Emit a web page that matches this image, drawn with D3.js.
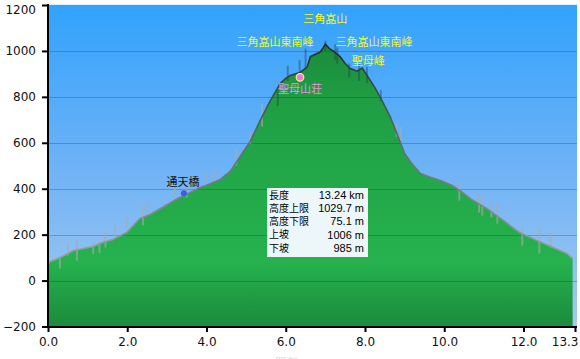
<!DOCTYPE html>
<html><head><meta charset="utf-8">
<script src="https://cdn.jsdelivr.net/npm/d3@7"></script>
<style>
html,body{margin:0;padding:0;background:#fff;}
svg{display:block;}
</style></head>
<body>
<svg id="chart" width="580" height="359"></svg>
<script>
// ---- data ----
const distKm = [0.0,0.05,0.3,0.64,0.9,1.14,1.39,1.64,2.0,2.32,2.6,2.83,3.1,3.33,3.6,3.84,4.1,4.34,4.6,4.85,5.1,5.35,5.6,5.86,6.0,6.11,6.36,6.54,6.62,6.87,6.95,7.0,7.1,7.2,7.37,7.5,7.63,7.8,7.93,8.08,8.26,8.43,8.64,8.84,9.0,9.2,9.4,9.65,9.9,10.2,10.45,10.66,11.08,11.5,11.9,12.35,12.75,13.1,13.24];
const elevM = [75,83,100,131,140,148,167,179,211,270,290,313,340,363,385,405,422,440,475,540,605,695,780,858,880,893,906,930,975,995,1015,1030,1010,1000,975,945,923,912,925,886,837,784,712,625,553,505,466,450,436,414,385,357,313,261,209,174,144,118,96];
// raw-data noise spikes: km, upper elev, lower elev
const spikeKm = [0.3,0.5,0.73,1.14,1.3,1.45,1.7,2.0,2.4,2.5,3.2,3.5,4.0,4.2,4.75,5.1,5.4,5.8,6.05,6.35,6.5,7.0,7.25,7.3,7.6,7.85,8.05,8.4,8.8,8.9,10.38,10.88,10.96,11.19,11.34,11.97,12.4,12.68];
const spikeHi  = [96,161,174,165,170,209,240,274,327,340,400,405,466,479,570,650,770,830,935,960,1010,1045,1030,1015,945,945,930,830,685,670,427,380,370,335,335,231,231,205];
const spikeLo  = [52,109,87,115,120,144,183,218,240,292,357,360,422,435,500,595,670,760,870,900,920,1000,960,945,885,870,860,780,625,600,348,296,283,275,248,152,118,144];
const yTicks = [-200,0,200,400,600,800,1000,1200];
const xTicks = [0,2,4,6,8,10,12,13.3];
const wpNames = ["三角嵓山","三角嵓山東南峰","三角嵓山東南峰","聖母峰","聖母山荘","通天橋"];
const wpKm    = [7.0,5.73,8.23,8.08,6.36,3.41];
const wpElev  = [1141,1039,1039,956,832,428];
const wpKind  = ["peak","peak","peak","peak","hut","bridge"];
const markerKm = [6.36,3.43];
const markerElev = [885,380];
const markerKind = ["hut","bridge"];
const infoLabels = ["長度","高度上限","高度下限","上坡","下坡"];
const infoValues = ["13.24 km","1029.7 m","75.1 m","1006 m","985 m"];

// ---- chart ----
(function(){
const svg = d3.select("#chart");
const pL = 48, pR = 577, pT = 4, pB = 327;
const x = d3.scaleLinear().domain([0,13.3]).range([48,575]);
const y = d3.scaleLinear().domain([-200,1200]).range([326.5,5]);
const pts = distKm.map((k,i)=>({k, e: elevM[i]}));

const defs = svg.append("defs");
const sky = defs.append("linearGradient").attr("id","sky").attr("x1",0).attr("y1",0).attr("x2",0).attr("y2",1);
sky.append("stop").attr("offset","0%").attr("stop-color","#31a2fd");
sky.append("stop").attr("offset","50%").attr("stop-color","#6eb2f6");
sky.append("stop").attr("offset","100%").attr("stop-color","#a6c9ef");
const grn = defs.append("linearGradient").attr("id","grn").attr("gradientUnits","userSpaceOnUse")
  .attr("x1",0).attr("y1",pT).attr("x2",0).attr("y2",pB);
grn.append("stop").attr("offset","0%").attr("stop-color","#187e35");
grn.append("stop").attr("offset","30%").attr("stop-color","#1f9e44");
grn.append("stop").attr("offset","80%").attr("stop-color","#26b24e");
grn.append("stop").attr("offset","100%").attr("stop-color","#1b8a3c");
const lineG = defs.append("linearGradient").attr("id","lineG").attr("gradientUnits","userSpaceOnUse")
  .attr("x1",0).attr("y1",40).attr("x2",0).attr("y2",260);
lineG.append("stop").attr("offset","0%").attr("stop-color","#1c2a28");
lineG.append("stop").attr("offset","45%").attr("stop-color","#5a6a66");
lineG.append("stop").attr("offset","100%").attr("stop-color","#9aa0a6");
defs.append("clipPath").attr("id","clip").append("rect")
  .attr("x",pL).attr("y",pT).attr("width",pR-pL).attr("height",pB-pT);

svg.append("rect").attr("x",pL).attr("y",pT).attr("width",pR-pL).attr("height",pB-pT)
  .attr("fill","url(#sky)");
svg.append("line").attr("x1",pL).attr("x2",pR).attr("y1",pT+0.5).attr("y2",pT+0.5)
  .attr("stroke","#d8ecff").attr("stroke-width",1);

const plot = svg.append("g").attr("clip-path","url(#clip)");
plot.append("path").datum(pts)
  .attr("d", d3.area().x(d=>x(d.k)).y0(y(-200)+2).y1(d=>y(d.e)))
  .attr("fill","url(#grn)");

plot.selectAll("line.grid").data(yTicks.filter(t=>t>-200 && t<1200)).join("line")
  .attr("class","grid").attr("x1",pL).attr("x2",pR)
  .attr("y1",d=>Math.round(y(d))+0.5).attr("y2",d=>Math.round(y(d))+0.5)
  .attr("stroke","rgba(0,50,110,0.28)").attr("stroke-width",1);

plot.selectAll("line.spike").data(spikeKm.map((k,i)=>({k,hi:spikeHi[i],lo:spikeLo[i]}))).join("line")
  .attr("class","spike")
  .attr("x1",d=>x(d.k)).attr("x2",d=>x(d.k))
  .attr("y1",d=>y(d.hi)).attr("y2",d=>y(d.lo))
  .attr("stroke",d=>d.hi>800 ? "rgba(40,55,60,0.38)" : "rgba(170,170,170,0.6)")
  .attr("stroke-width",2);

plot.append("path").datum(pts)
  .attr("d", d3.line().x(d=>x(d.k)).y(d=>y(d.e)))
  .attr("fill","none").attr("stroke","url(#lineG)").attr("stroke-width",1.6);

const ay = svg.append("g").attr("transform",`translate(${pL},0)`)
  .call(d3.axisLeft(y).tickValues(yTicks).tickSize(6).tickPadding(6).tickFormat(d3.format("d")));
const ax = svg.append("g").attr("transform",`translate(0,${pB})`)
  .call(d3.axisBottom(x).tickValues(xTicks).tickSize(5).tickPadding(5).tickFormat(d3.format(".1f")));
[ay,ax].forEach(g=>{
  g.selectAll("text").attr("font-family","DejaVu Sans, Verdana, sans-serif").attr("font-size","12px").attr("fill","#111");
  g.selectAll("line").attr("stroke","#000").attr("stroke-width",2);
  g.select(".domain").attr("stroke","#000").attr("stroke-width",2);
});
ay.select(".domain").attr("d",`M0,${pT}V${pB}`);
ax.select(".domain").attr("d",`M${pL},0H${pR}`);
ay.selectAll(".tick").filter(d=>d===1200).select("text").attr("dy","0.72em");
ax.selectAll(".tick").filter(d=>d===13.3).select("text").attr("text-anchor","end").attr("dx","3px");

svg.selectAll("circle.mk").data(markerKm.map((k,i)=>({k,e:markerElev[i],kind:markerKind[i]}))).join("circle")
  .attr("class","mk").attr("cx",d=>x(d.k)).attr("cy",d=>y(d.e))
  .attr("r",d=>d.kind==="hut"?3.8:3)
  .attr("fill",d=>d.kind==="hut"?"#f078d8":"#3c5cf0")
  .attr("stroke",d=>d.kind==="hut"?"#f4f0a0":"none").attr("stroke-width",1.2);

svg.selectAll("text.wp").data(wpNames.map((n,i)=>({n,k:wpKm[i],e:wpElev[i],kind:wpKind[i]}))).join("text")
  .attr("class","wp").attr("x",d=>x(d.k)).attr("y",d=>y(d.e)).attr("dy","0.36em")
  .attr("text-anchor","middle")
  .attr("font-family","'Noto Sans CJK JP', sans-serif").attr("font-size","11px")
  .attr("fill",d=>d.kind==="peak"?"#f4f820":(d.kind==="hut"?"#f08ee8":"#101010"))
  .text(d=>d.n);

const bx = 267, by = 188, bw = 101, bh = 69;
const info = svg.append("g");
info.append("rect").attr("x",bx).attr("y",by).attr("width",bw).attr("height",bh)
  .attr("fill","#f4f9ff").attr("fill-opacity",0.97);
const rowY = d3.scaleLinear().domain([0,infoLabels.length-1]).range([by+7,by+60]);
info.selectAll("text.il").data(infoLabels).join("text").attr("class","il")
  .attr("x",bx+2).attr("y",(d,i)=>rowY(i)).attr("dy","0.36em")
  .attr("font-family","'Noto Sans CJK JP', sans-serif").attr("font-size","10px").attr("fill","#000")
  .text(d=>d);
info.selectAll("text.iv").data(infoValues).join("text").attr("class","iv")
  .attr("x",bx+bw-4).attr("y",(d,i)=>rowY(i)).attr("dy","0.36em").attr("text-anchor","end")
  .attr("font-family","'Liberation Sans', Arial, sans-serif").attr("font-size","11px").attr("fill","#000")
  .text(d=>d);

svg.append("text").attr("x",287).attr("y",368).attr("text-anchor","middle")
  .attr("font-family","'Noto Sans CJK JP', sans-serif").attr("font-size","12px").attr("fill","#ddd")
  .text("距離");
})();
</script>
</body></html>
